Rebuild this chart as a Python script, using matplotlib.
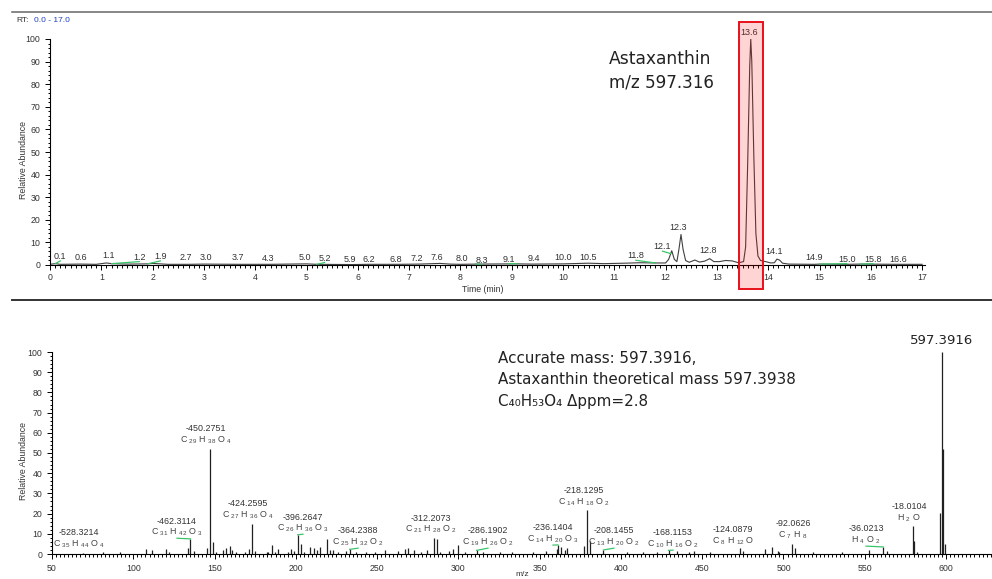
import re
import numpy as np
import matplotlib
matplotlib.use("Agg")
import matplotlib.pyplot as plt
from matplotlib.ticker import MultipleLocator
from matplotlib.patches import Rectangle
from matplotlib.lines import Line2D

W, H = 992, 579

plt.rcParams['font.family'] = ['Liberation Sans', 'DejaVu Sans']
plt.rcParams['mathtext.fontset'] = 'custom'
plt.rcParams['mathtext.rm'] = 'Liberation Sans'
plt.rcParams['mathtext.it'] = 'Liberation Sans:italic'
plt.rcParams['mathtext.bf'] = 'Liberation Sans:bold'

# chromatogram trace (time in min, relative abundance %)
rt = [0.0, 0.1, 0.2, 0.6, 0.9, 1.1, 1.2, 1.5, 1.9, 2.0, 2.3, 2.7, 3.0, 3.7, 4.3,
      5.0, 5.2, 5.9, 6.2, 6.8, 7.2, 7.6, 7.8, 8.0, 8.3, 9.1, 9.4, 10.0, 10.5,
      10.8, 11.2, 11.5, 11.8, 12.0, 12.06, 12.12, 12.17, 12.22, 12.26, 12.30,
      12.34, 12.39, 12.46, 12.57, 12.66, 12.76, 12.86, 12.94, 13.05, 13.17,
      13.30, 13.42, 13.52, 13.56, 13.60, 13.64, 13.66, 13.68, 13.72, 13.76,
      13.80, 13.85, 13.95, 14.05, 14.12, 14.17, 14.22, 14.28, 14.4, 14.9,
      15.0, 15.5, 15.8, 16.6, 17.0]
abund = [0.3, 0.6, 0.3, 0.4, 0.3, 0.9, 0.6, 0.4, 0.5, 0.7, 0.3, 0.3, 0.4, 0.3, 0.3,
         0.5, 0.3, 0.2, 0.3, 0.3, 0.4, 0.7, 0.4, 0.3, 0.4, 0.5, 0.4, 0.5, 0.8,
         0.6, 0.8, 1.0, 0.9, 0.9, 2.5, 6.3, 2.5, 1.5, 7.0, 13.5,
         7.0, 2.0, 1.2, 2.2, 1.3, 1.7, 2.8, 1.5, 1.5, 2.0,
         1.8, 1.0, 1.5, 8.0, 45.0, 88.0, 100.0, 90.0, 48.0, 14.0,
         4.0, 2.0, 1.5, 0.9, 1.0, 2.6, 2.2, 0.8, 0.4, 0.3,
         0.4, 0.3, 0.4, 0.3, 0.3]

# labelled peaks in the chromatogram
peak_rt = [0.1, 0.6, 1.1, 1.2, 1.9, 2.7, 3.0, 3.7, 4.3, 5.0, 5.2, 5.9, 6.2, 6.8,
           7.2, 7.6, 8.0, 8.3, 9.1, 9.4, 10.0, 10.5, 11.8, 12.1, 12.3, 12.8,
           13.6, 14.1, 14.9, 15.0, 15.8, 16.6]
# where the software put each label
peak_lab_x = [0.20, 0.60, 1.15, 1.74, 2.15, 2.65, 3.04, 3.67, 4.26, 4.96, 5.35,
              5.85, 6.21, 6.75, 7.14, 7.55, 8.02, 8.41, 8.94, 9.43, 10.01, 10.48,
              11.42, 11.94, 12.24, 12.82, 13.62, 14.11, 14.89, 15.53, 16.04, 16.53]
peak_lab_y = [3.7, 3.2, 4.0, 3.4, 3.7, 3.2, 3.2, 3.2, 3.0, 3.4, 3.0, 2.6, 2.6,
              2.6, 3.0, 3.4, 3.0, 2.2, 2.5, 3.0, 3.1, 3.4, 4.0, 8.0, 16.4, 6.2,
              102.7, 5.8, 3.2, 2.5, 2.5, 2.5]

# mass spectrum
precursor_mz = 597.3916
spec_mz = [81.6, 92.0, 107.6, 111.7, 120.0, 122.2, 133.9, 137.5, 145.5, 149.0,
           151.0, 155.0, 157.0, 159.3, 161.0, 163.0, 169.0, 171.0, 175.0, 182.0,
           183.0, 185.3, 187.0, 189.0, 195.0, 197.0, 199.0, 203.0, 205.0, 209.0,
           211.0, 213.0, 215.0, 219.1, 221.0, 223.0, 226.0, 231.0, 237.0, 243.0,
           249.0, 255.0, 263.0, 267.0, 269.0, 273.0, 277.0, 281.0, 287.0, 289.0,
           294.0, 297.0, 299.5, 304.0, 315.0, 325.6, 333.0, 346.0, 354.0, 360.5,
           363.0, 365.6, 367.0, 377.0, 381.0, 403.5, 413.6, 422.0, 434.4, 441.6,
           444.7, 454.8, 475.3, 488.6, 492.7, 496.4, 497.4, 507.1, 518.4, 535.8,
           552.8, 563.9, 580.4, 582.4, 596.39, 597.3916, 598.4, 599.4]
spec_int = [0.8, 0.8, 2.3, 1.8, 2.5, 1.0, 2.8, 1.5, 3.2, 6.0,
            1.0, 1.8, 3.0, 3.8, 2.0, 1.0, 1.2, 2.5, 1.5, 1.0,
            1.0, 4.3, 1.2, 2.3, 1.0, 2.5, 1.5, 5.0, 0.8, 3.3,
            3.0, 2.0, 3.5, 7.5, 1.8, 1.8, 1.2, 1.5, 0.8, 0.8,
            1.0, 2.0, 1.3, 2.5, 3.0, 2.0, 1.2, 1.8, 7.5, 1.0,
            1.5, 2.5, 4.5, 0.8, 1.0, 0.8, 0.8, 1.0, 1.5, 2.3,
            3.5, 2.2, 2.8, 4.0, 6.5, 1.0, 1.0, 1.2, 1.5, 1.2,
            1.5, 0.8, 1.5, 2.3, 3.5, 1.5, 1.0, 3.0, 0.8, 0.8,
            1.8, 1.5, 6.5, 1.0, 20.5, 100.0, 52.0, 5.0]

frag_loss = [-528.3214, -462.3114, -450.2751, -424.2595, -396.2647, -364.2388,
             -312.2073, -286.1902, -236.1404, -218.1295, -208.1455, -168.1153,
             -124.0879, -92.0626, -36.0213, -18.0104]
frag_formula = ["C35 H44 O4", "C31 H42 O3", "C29 H38 O4", "C27 H36 O4",
                "C26 H36 O3", "C25 H32 O2", "C21 H28 O2", "C19 H26 O2",
                "C14 H20 O3", "C14 H18 O2", "C13 H20 O2", "C10 H16 O2",
                "C8 H12 O", "C7 H8", "H4 O2", "H2 O"]
frag_int = [0.5, 7.5, 52.0, 15.0, 9.5, 2.3, 8.0, 1.8, 4.5, 22.0, 2.0, 1.8,
            3.0, 5.0, 3.5, 14.0]
# label placement as drawn by the software
frag_lab_mz = [66.6, 126.9, 144.7, 170.6, 204.4, 238.3, 283.2, 318.2, 358.2,
               377.3, 395.7, 432.0, 468.9, 505.9, 550.8, 577.2]
frag_lab_y = [10.4, 16.3, 61.9, 24.8, 18.3, 11.4, 17.8, 11.4, 12.9, 31.2, 11.4,
              10.4, 11.9, 14.9, 12.4, 23.3]
frag_leader = [0, 1, 0, 0, 1, 1, 0, 1, 1, 0, 1, 1, 0, 0, 1, 0]

TXT = '#333333'
GREEN = '#3cc46a'


def px(x, y):
    return x / W, 1 - y / H


def formula_tex(s):
    return re.sub(r'(\d+)', r' $_{\1}$', s)


def style_axis(ax):
    for s in ['top', 'right']:
        ax.spines[s].set_visible(False)
    for s in ['left', 'bottom']:
        ax.spines[s].set_linewidth(0.8)
    ax.tick_params(which='both', direction='out', color='black', width=0.7,
                   labelsize=6.3, labelcolor=TXT)
    ax.tick_params(which='major', length=3.5)
    ax.tick_params(which='minor', length=1.8)
    ax.tick_params(axis='y', pad=3.5)
    ax.set_facecolor('none')


fig = plt.figure(figsize=(W / 100, H / 100), dpi=100)

# frame lines
fig.add_artist(Line2D([12 / W, 1], [1 - 12 / H] * 2, color='#666666', lw=1.1))
fig.add_artist(Line2D([12 / W, 1], [1 - 300 / H] * 2, color='#333333', lw=1.4))

fig.text(*px(16, 21), 'RT:', fontsize=6, color=TXT, va='center', ha='left')
fig.text(*px(34, 21), '0.0 - 17.0', fontsize=6, color='#2040c0', va='center', ha='left')

# ---- top: chromatogram ----
ax1 = fig.add_axes([50 / W, 1 - 265 / H, 875 / W, 226 / H])
ax1.plot(rt, abund, color='#404040', lw=0.8)
ax1.set_xlim(0, 875 / 51.3)
ax1.set_ylim(0, 100)
ax1.xaxis.set_major_locator(MultipleLocator(1))
ax1.xaxis.set_minor_locator(MultipleLocator(0.1))
ax1.yaxis.set_major_locator(MultipleLocator(10))
ax1.yaxis.set_minor_locator(MultipleLocator(2))
style_axis(ax1)
ax1.tick_params(axis='x', pad=2)

for r, lx, ly in zip(peak_rt, peak_lab_x, peak_lab_y):
    ax1.text(lx, ly, f'{r:.1f}', fontsize=6.5, color=TXT, ha='center',
             va='center', clip_on=False)
    if abs(lx - r) > 0.08:
        ax1.plot([r, lx], [np.interp(r, rt, abund), ly - 1.9], color=GREEN,
                 lw=0.9, clip_on=False)

ax1.add_patch(Rectangle((13.43, -10.6), 0.47, 118.1, facecolor='red', alpha=0.17,
                        edgecolor='none', clip_on=False, zorder=3))
ax1.add_patch(Rectangle((13.43, -10.6), 0.47, 118.1, facecolor='none',
                        edgecolor='#e8101a', lw=1.4, clip_on=False, zorder=4))

fig.text(*px(609, 64), 'Astaxanthin', fontsize=12.3, family='DejaVu Sans',
         color='#222222', va='baseline')
fig.text(*px(609, 88), 'm/z 597.316', fontsize=12.1, family='DejaVu Sans',
         color='#222222', va='baseline')
fig.text(*px(483, 290), 'Time (min)', fontsize=6.3, color=TXT, ha='center', va='center')
fig.text(*px(24, 160), 'Relative Abundance', fontsize=6.3, color=TXT,
         rotation=90, ha='center', va='center')

# ---- bottom: MS/MS spectrum ----
ax2 = fig.add_axes([52 / W, 1 - 554 / H, 940 / W, 202 / H])
ax2.vlines(spec_mz, 0, spec_int, color='#202020', lw=0.9)
frag_mz = [precursor_mz + d for d in frag_loss]
ax2.vlines(frag_mz, 0, frag_int, color='#202020', lw=0.9)
ax2.set_xlim(50, 50 + 940 / 1.6255)
ax2.set_ylim(0, 100)
ax2.xaxis.set_major_locator(MultipleLocator(50))
ax2.xaxis.set_minor_locator(MultipleLocator(2.5))
ax2.yaxis.set_major_locator(MultipleLocator(10))
ax2.yaxis.set_minor_locator(MultipleLocator(2))
style_axis(ax2)
ax2.tick_params(axis='x', pad=4)

for d, f, fm, fi, lx, ly, ld in zip(frag_loss, frag_formula, frag_mz, frag_int,
                                    frag_lab_mz, frag_lab_y, frag_leader):
    ax2.text(lx, ly, f'{d:.4f}', fontsize=6.4, color=TXT, ha='center',
             va='center', clip_on=False)
    ax2.text(lx, ly - 5.7, formula_tex(f), fontsize=6.4, color='#444444',
             ha='center', va='center', clip_on=False)
    if ld:
        ax2.plot([fm, lx], [fi, ly - 8.5], color=GREEN, lw=0.9, clip_on=False)

ax2.text(precursor_mz, 104, f'{precursor_mz:.4f}', fontsize=9.5,
         family='DejaVu Sans', color='#222222', ha='center', va='baseline',
         clip_on=False)

fig.text(*px(498, 363), 'Accurate mass: 597.3916,', fontsize=10.9,
         family='DejaVu Sans', color='#222222', va='baseline')
fig.text(*px(498, 384), 'Astaxanthin theoretical mass 597.3938', fontsize=10.9,
         family='DejaVu Sans', color='#222222', va='baseline')
fig.text(*px(498, 406), 'C\u2084\u2080H\u2085\u2083O\u2084 \u0394ppm=2.8',
         fontsize=10.9, family='DejaVu Sans', color='#222222', va='baseline')
fig.text(*px(24, 461), 'Relative Abundance', fontsize=6.3, color=TXT,
         rotation=90, ha='center', va='center')
fig.text(*px(522, 574), 'm/z', fontsize=6, color=TXT, ha='center', va='center')

fig.savefig('out.png', dpi=100)
